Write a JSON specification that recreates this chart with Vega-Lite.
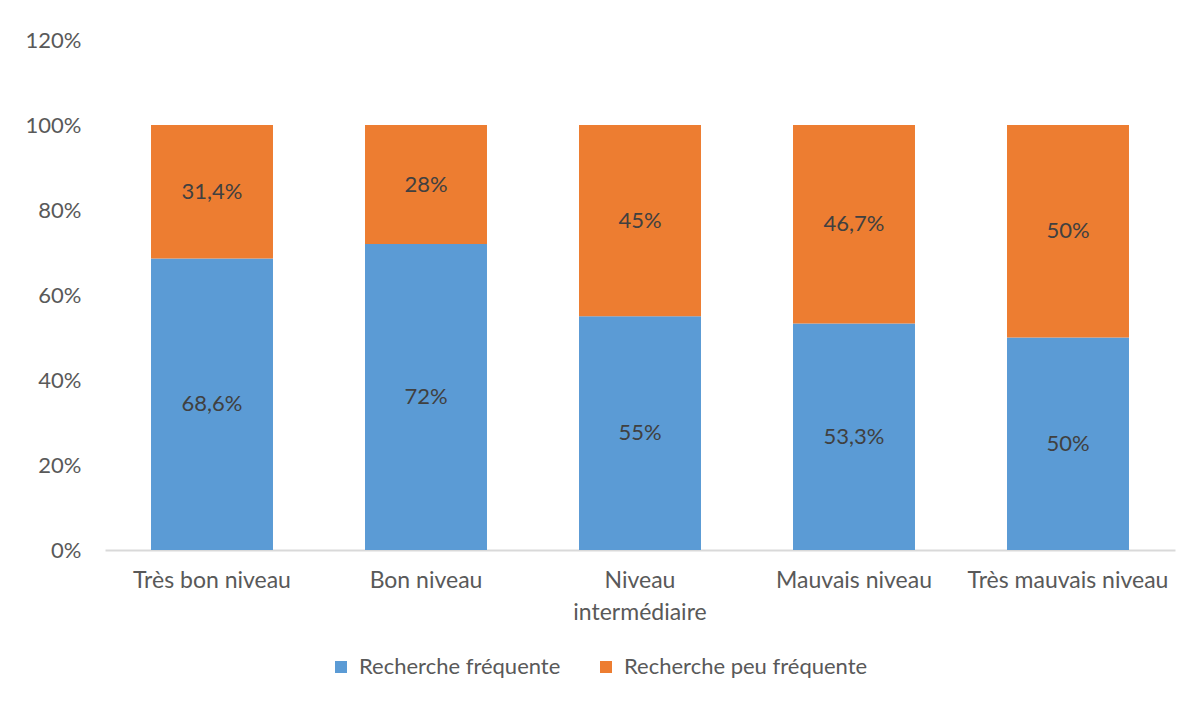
{
  "$schema": "https://vega.github.io/schema/vega-lite/v6.json",
  "width": 1070,
  "height": 510,
  "autosize": {"type": "none"},
  "padding": {"left": 105, "top": 40, "right": 26, "bottom": 154},
  "background": "white",
  "config": {
    "view": {"stroke": null},
    "font": "Lato",
    "axis": {"labelFont": "Lato", "labelColor": "#595959", "labelFontSize": 22},
    "legend": {"labelFont": "Lato", "labelColor": "#595959", "labelFontSize": 22, "labelLimit": 0}
  },
  "data": {
    "values": [
      {"niveau": "Très bon niveau", "serie": "Recherche fréquente", "ordre": 1, "valeur": 68.6, "label": "68,6%"},
      {"niveau": "Très bon niveau", "serie": "Recherche peu fréquente", "ordre": 2, "valeur": 31.4, "label": "31,4%"},
      {"niveau": "Bon niveau", "serie": "Recherche fréquente", "ordre": 1, "valeur": 72, "label": "72%"},
      {"niveau": "Bon niveau", "serie": "Recherche peu fréquente", "ordre": 2, "valeur": 28, "label": "28%"},
      {"niveau": "Niveau intermédiaire", "serie": "Recherche fréquente", "ordre": 1, "valeur": 55, "label": "55%"},
      {"niveau": "Niveau intermédiaire", "serie": "Recherche peu fréquente", "ordre": 2, "valeur": 45, "label": "45%"},
      {"niveau": "Mauvais niveau", "serie": "Recherche fréquente", "ordre": 1, "valeur": 53.3, "label": "53,3%"},
      {"niveau": "Mauvais niveau", "serie": "Recherche peu fréquente", "ordre": 2, "valeur": 46.7, "label": "46,7%"},
      {"niveau": "Très mauvais niveau", "serie": "Recherche fréquente", "ordre": 1, "valeur": 50, "label": "50%"},
      {"niveau": "Très mauvais niveau", "serie": "Recherche peu fréquente", "ordre": 2, "valeur": 50, "label": "50%"}
    ]
  },
  "transform": [
    {"stack": "valeur", "groupby": ["niveau"], "sort": [{"field": "ordre", "order": "ascending"}], "as": ["y0", "y1"]},
    {"calculate": "(datum.y0 + datum.y1) / 2", "as": "ymid"}
  ],
  "encoding": {
    "x": {
      "field": "niveau",
      "type": "nominal",
      "sort": ["Très bon niveau", "Bon niveau", "Niveau intermédiaire", "Mauvais niveau", "Très mauvais niveau"],
      "scale": {"paddingInner": 0.43, "paddingOuter": 0.215},
      "axis": {
        "title": null,
        "labelAngle": 0,
        "ticks": false,
        "domainColor": "#d9d9d9",
        "domainWidth": 2,
        "labelFontSize": 23,
        "labelPadding": 19,
        "labelLineHeight": 32,
        "labelLimit": 0,
        "labelExpr": "datum.label == 'Niveau intermédiaire' ? ['Niveau', 'intermédiaire'] : datum.label"
      }
    }
  },
  "layer": [
    {
      "mark": {"type": "bar"},
      "encoding": {
        "y": {
          "field": "y0",
          "type": "quantitative",
          "scale": {"domain": [0, 120]},
          "axis": {
            "title": null,
            "values": [0, 20, 40, 60, 80, 100, 120],
            "labelExpr": "datum.value + '%'",
            "grid": false,
            "domain": false,
            "ticks": false,
            "labelPadding": 24
          }
        },
        "y2": {"field": "y1"},
        "color": {
          "field": "serie",
          "type": "nominal",
          "scale": {"domain": ["Recherche fréquente", "Recherche peu fréquente"], "range": ["#5B9BD5", "#ED7D31"]},
          "legend": {
            "title": null,
            "orient": "none",
            "direction": "horizontal",
            "legendX": 225,
            "legendY": 616,
            "symbolType": "square",
            "symbolSize": 144,
            "symbolStrokeWidth": 0,
            "columnPadding": 34,
            "labelOffset": 7
          }
        }
      }
    },
    {
      "mark": {"type": "text", "fontSize": 22, "color": "#404040", "font": "Lato"},
      "encoding": {
        "y": {"field": "ymid", "type": "quantitative"},
        "text": {"field": "label"}
      }
    }
  ]
}
